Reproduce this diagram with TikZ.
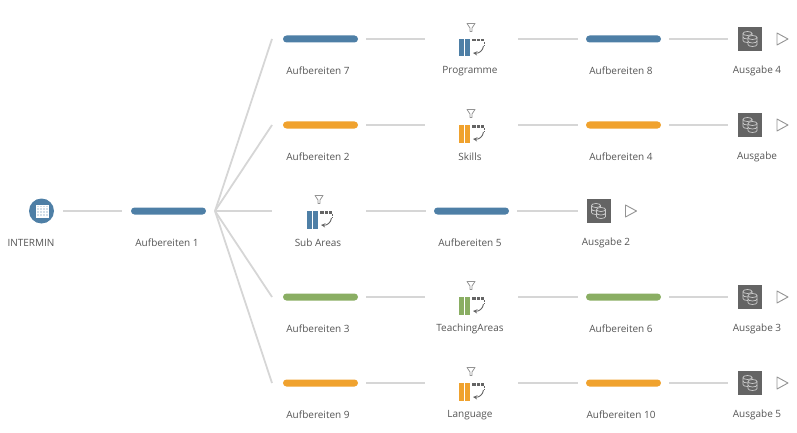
\documentclass[tikz,border=0pt]{standalone}
\usepackage{fontspec}
\setmainfont{Open Sans}
\definecolor{stepblue}{HTML}{4E7FA6}
\definecolor{steporange}{HTML}{F0A22E}
\definecolor{stepgreen}{HTML}{8AAE63}
\definecolor{linegray}{HTML}{D6D6D6}
\definecolor{outgray}{HTML}{646464}
\definecolor{textgray}{HTML}{555555}
\tikzset{
  barstep/.style={fill=#1, rounded corners=3.5pt, minimum width=75pt, minimum height=7pt, inner sep=0pt},
  slotstep/.style={minimum width=77pt, minimum height=7pt, inner sep=0pt},
  outstep/.style={fill=outgray, minimum width=24pt, minimum height=24pt, inner sep=0pt},
  steptext/.style={text=textgray, font=\fontsize{10}{12}\selectfont, inner sep=0pt},
  flow/.style={draw=linegray, line width=1.5pt, shorten >=8pt, shorten <=8pt},
  fan/.style={draw=linegray, line width=1.8pt},
  runmark/.style={draw=gray!85, fill=white, line width=0.9pt, line join=round},
  drum/.style={draw=white!80!black, fill=outgray, line width=0.7pt}
}
% clean step: funnel, two bars, dashed corner and return arrow
\newcommand{\cleanicon}[3]{
  \begin{scope}[shift={(#1,#2)}]
    \draw[gray!85, line width=0.8pt, line join=round] (-4.5,-15.5) -- (3.5,-15.5) -- (0.5,-11) -- (0.5,-7.5) -- (-1.5,-7.5) -- (-1.5,-11) -- cycle;
    \fill[#3] (-12.5,0) rectangle (-7.5,17.5);
    \fill[#3] (-6.5,0) rectangle (-1.5,17.5);
    \fill[outgray] (0.5,0) rectangle (4.5,2.5);
    \fill[outgray] (5.5,0) rectangle (8,2.5);
    \fill[outgray] (9,0) rectangle (12.5,2.5);
    \draw[outgray, line width=0.8pt, dash pattern=on 2pt off 1pt] (12.5,3) -- (12.5,7);
    \draw[outgray, line width=0.9pt, -stealth] (12,7) .. controls (11.5,12) and (7,14.5) .. (1.5,14);
  \end{scope}
}
% one drum of the output box
\newcommand{\drumicon}[2]{
  \draw[drum] (#1-4.5,#2-3.5) -- (#1-4.5,#2+3.5) arc[start angle=180, end angle=0, x radius=4.5, y radius=2] -- (#1+4.5,#2-3.5);
  \draw[drum] (#1,#2-3.5) ellipse[x radius=4.5, y radius=2];
  \draw[drum, fill=none] (#1-4.5,#2) arc[start angle=180, end angle=0, x radius=4.5, y radius=2];
}
% output box: two drums and the run triangle
\newcommand{\outicon}[3]{
  \node[outstep] (#3) at (#1,#2) {};
  \begin{scope}[shift={(#1,#2)}]
    \drumicon{-2.5}{-2}
    \drumicon{2.5}{2}
    \draw[runmark] (27,-6) -- (38,0) -- (27,6) -- cycle;
  \end{scope}
}
\begin{document}
\begin{tikzpicture}[x=1pt, y=-1pt]
  \useasboundingbox (0,0) rectangle (797,433);

  % source and first step
  \node[circle, fill=stepblue, minimum size=25pt, inner sep=0pt] (source) at (41.5,211) {};
  \fill[white!75!stepblue] (36,205) rectangle (48,217);
  \draw[white, line width=0.6pt] (36,205) grid[step=3pt] (48,217);
  \draw[white, line width=0.6pt] (36,205) rectangle (48,217);
  \node[steptext] (sourcetext) at (31,243) {INTERMIN};
  \node[barstep=stepblue] (prep1) at (168.5,211) {};
  \node[steptext] (prep1text) at (167,243) {Aufbereiten 1};
  \draw[flow, shorten >=9pt, shorten <=9pt] (source) -- (prep1);
  \coordinate (fanroot) at (215,211);

  % rows with clean step in the second column
  \foreach \rowid/\rowy/\rowcolor/\prepa/\cleantext/\prepb/\outtext in {
    a/39/stepblue/Aufbereiten 7/Programme/Aufbereiten 8/Ausgabe 4,
    b/125/steporange/Aufbereiten 2/Skills/Aufbereiten 4/Ausgabe,
    c/297/stepgreen/Aufbereiten 3/TeachingAreas/Aufbereiten 6/Ausgabe 3,
    d/383/steporange/Aufbereiten 9/Language/Aufbereiten 10/Ausgabe 5}{
    \coordinate (fan\rowid) at (272,\rowy);
    \draw[fan] (fanroot) -- (fan\rowid);
    \node[barstep=\rowcolor] (first\rowid) at (320.5,\rowy) {};
    \node[slotstep] (clean\rowid) at (471.5,\rowy) {};
    \node[barstep=\rowcolor] (second\rowid) at (623.5,\rowy) {};
    \cleanicon{471.5}{\rowy}{\rowcolor}
    \outicon{750}{\rowy}{out\rowid}
    \draw[flow] (first\rowid) -- (clean\rowid);
    \draw[flow] (clean\rowid) -- (second\rowid);
    \draw[flow, shorten >=10pt] (second\rowid) -- (out\rowid);
    \node[steptext] (first\rowid text) at (318,\rowy+32) {\prepa};
    \node[steptext] (clean\rowid text) at (470,\rowy+32) {\cleantext};
    \node[steptext] (second\rowid text) at (621,\rowy+32) {\prepb};
    \node[steptext] (out\rowid text) at (757,\rowy+32) {\outtext};
  }

  % shorter middle row
  \coordinate (fanmid) at (272,211);
  \draw[fan] (fanroot) -- (fanmid);
  \node[slotstep] (cleanmid) at (319.5,211) {};
  \node[barstep=stepblue] (prep5) at (471.5,211) {};
  \cleanicon{319.5}{211}{stepblue}
  \outicon{598.5}{211}{outmid}
  \draw[flow] (cleanmid) -- (prep5);
  \draw[flow] (prep5) -- (outmid);
  \node[steptext] (cleanmidtext) at (318,243) {Sub Areas};
  \node[steptext] (prep5text) at (470,243) {Aufbereiten 5};
  \node[steptext] (outmidtext) at (606,243) {Ausgabe 2};
\end{tikzpicture}
\end{document}
